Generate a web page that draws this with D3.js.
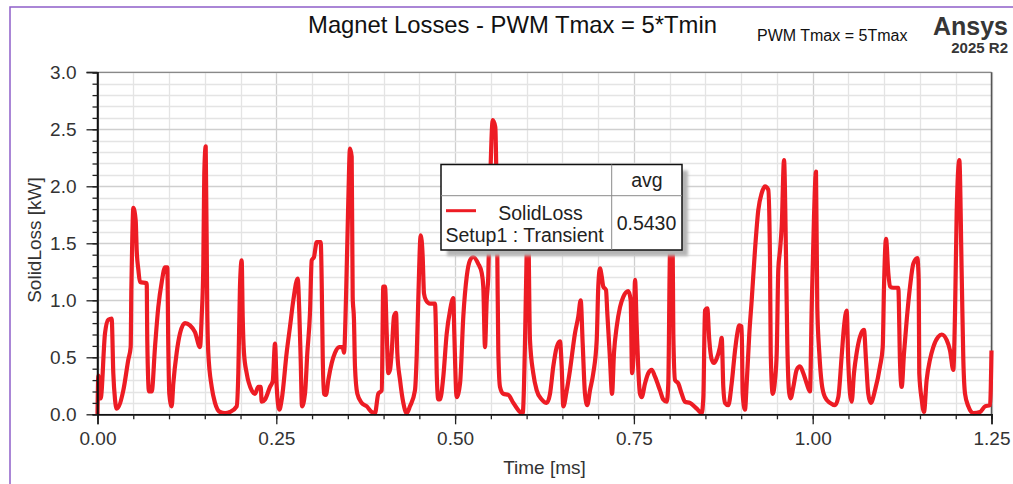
<!DOCTYPE html>
<html><head><meta charset="utf-8">
<script src="https://cdn.jsdelivr.net/npm/d3@7"></script>
<style>html,body{margin:0;padding:0;background:#fff;}svg{display:block;font-family:"Liberation Sans",Arial,sans-serif;}</style>
</head><body>
<svg id="chart" width="1013" height="484"></svg>
<script>
// ---- data ----
const chartTitle = "Magnet Losses - PWM Tmax = 5*Tmin";
const subTitle = "PWM Tmax = 5Tmax";
const xLabel = "Time [ms]";
const yLabel = "SolidLoss [kW]";
const seriesName = "SolidLoss";
const seriesSetup = "Setup1 : Transient";
const avgLabel = "avg";
const avgValue = "0.5430";
const xTickValues = [0, 0.25, 0.5, 0.75, 1.0, 1.25];
const xTickLabels = ["0.00", "0.25", "0.50", "0.75", "1.00", "1.25"];
const yTickValues = [0, 0.5, 1.0, 1.5, 2.0, 2.5, 3.0];
const yTickLabels = ["0.0", "0.5", "1.0", "1.5", "2.0", "2.5", "3.0"];
const timeMs = [
0.0000,0.0012,0.0044,0.0105,0.0151,0.0198,0.0221,0.0245,0.0268,0.0361,0.0431,0.0464,0.0473,0.0487,0.0501,0.0534,0.0548,0.0571,0.0594,0.0688,
0.0696,0.0720,0.0758,0.0804,0.0850,0.0898,0.0944,0.0976,0.0990,0.1004,0.1037,0.1060,0.1107,0.1154,0.1223,0.1293,0.1363,0.1433,0.1457,0.1479,
0.1493,0.1513,0.1535,0.1549,0.1597,0.1643,0.1713,0.1783,0.1853,0.1946,0.1969,0.1992,0.2016,0.2030,0.2048,0.2086,0.2156,0.2202,0.2248,0.2282,
0.2296,0.2342,0.2412,0.2450,0.2482,0.2506,0.2542,0.2576,0.2645,0.2692,0.2738,0.2799,0.2822,0.2841,0.2859,0.2901,0.2934,0.2971,0.2995,0.3027,
0.3065,0.3121,0.3135,0.3149,0.3167,0.3195,0.3227,0.3275,0.3321,0.3381,0.3428,0.3447,0.3475,0.3507,0.3530,0.3554,0.3568,0.3586,0.3600,0.3633,
0.3694,0.3764,0.3834,0.3880,0.3926,0.3974,0.3996,0.4020,0.4044,0.4066,0.4090,0.4113,0.4146,0.4174,0.4192,0.4230,0.4276,0.4323,0.4369,0.4439,
0.4463,0.4485,0.4519,0.4547,0.4565,0.4593,0.4649,0.4719,0.4733,0.4743,0.4765,0.4789,0.4835,0.4883,0.4929,0.4975,0.4989,0.5022,0.5069,0.5115,
0.5163,0.5208,0.5254,0.5324,0.5372,0.5394,0.5418,0.5442,0.5464,0.5498,0.5526,0.5562,0.5590,0.5604,0.5628,0.5674,0.5744,0.5814,0.5908,0.5945,
0.5977,0.6001,0.6019,0.6047,0.6093,0.6141,0.6211,0.6281,0.6327,0.6373,0.6421,0.6467,0.6490,0.6513,0.6561,0.6607,0.6676,0.6723,0.6756,0.6784,
0.6816,0.6848,0.6886,0.6932,0.6980,0.7002,0.7026,0.7050,0.7072,0.7110,0.7128,0.7166,0.7194,0.7222,0.7260,0.7306,0.7352,0.7422,0.7455,0.7474,
0.7492,0.7516,0.7539,0.7562,0.7585,0.7609,0.7655,0.7701,0.7749,0.7795,0.7865,0.7911,0.7959,0.7981,0.8005,0.8040,0.8051,0.8075,0.8121,0.8168,
0.8214,0.8284,0.8378,0.8448,0.8471,0.8494,0.8526,0.8554,0.8588,0.8620,0.8658,0.8704,0.8728,0.8750,0.8774,0.8820,0.8867,0.8914,0.8946,0.8974,
0.9007,0.9021,0.9053,0.9077,0.9114,0.9147,0.9193,0.9239,0.9287,0.9333,0.9379,0.9403,0.9413,0.9441,0.9473,0.9497,0.9519,0.9543,0.9567,0.9599,
0.9627,0.9645,0.9673,0.9692,0.9729,0.9776,0.9822,0.9869,0.9916,0.9962,0.9986,1.0018,1.0046,1.0064,1.0092,1.0126,1.0172,1.0242,1.0312,1.0358,
1.0405,1.0438,1.0475,1.0498,1.0522,1.0545,1.0577,1.0615,1.0661,1.0717,1.0745,1.0777,1.0811,1.0871,1.0941,1.0979,1.0997,1.1025,1.1057,1.1081,
1.1127,1.1197,1.1221,1.1244,1.1277,1.1315,1.1361,1.1407,1.1463,1.1482,1.1490,1.1524,1.1556,1.1593,1.1640,1.1686,1.1756,1.1804,1.1874,1.1920,
1.1966,1.1990,1.2013,1.2050,1.2083,1.2106,1.2130,1.2176,1.2246,1.2340,1.2410,1.2480,1.2500
];
const solidLossKW = [
0.00,0.34,0.14,0.71,0.83,0.84,0.36,0.13,0.05,0.21,0.48,0.59,1.09,1.56,1.81,1.70,1.44,1.27,1.16,1.15,
0.65,0.20,0.20,0.59,0.94,1.16,1.29,1.29,0.59,0.18,0.07,0.27,0.54,0.71,0.80,0.78,0.72,0.59,0.86,1.29,
2.11,2.35,0.89,0.54,0.24,0.10,0.02,0.01,0.02,0.07,0.36,1.12,1.35,0.86,0.54,0.36,0.21,0.18,0.24,0.24,
0.11,0.13,0.24,0.29,0.62,0.24,0.04,0.13,0.54,0.77,1.00,1.19,0.89,0.48,0.07,0.18,0.54,0.89,1.35,1.38,
1.51,1.51,1.15,0.51,0.18,0.17,0.30,0.45,0.54,0.59,0.59,0.54,1.03,1.88,2.33,2.26,1.03,0.83,0.42,0.18,
0.10,0.07,0.02,0.01,0.18,0.21,1.12,1.12,0.71,0.36,0.39,0.54,0.86,0.89,0.54,0.30,0.10,0.01,0.07,0.21,
0.51,1.00,1.57,1.38,1.06,1.00,0.97,0.97,0.71,0.36,0.13,0.13,0.33,0.71,0.91,1.02,0.71,0.15,0.27,0.86,
1.21,1.35,1.38,1.32,1.24,1.12,0.59,1.00,1.21,2.20,2.58,2.52,1.41,0.56,0.24,0.18,0.17,0.10,0.02,0.01,
0.62,1.44,1.75,0.65,0.36,0.21,0.13,0.10,0.18,0.42,0.59,0.64,0.42,0.07,0.21,0.39,0.71,0.86,1.00,0.62,
0.18,0.08,0.21,0.36,0.65,1.12,1.28,1.21,1.12,1.09,0.89,0.48,0.18,0.54,0.77,0.94,1.03,1.08,1.00,0.36,
0.48,1.18,0.77,0.39,0.18,0.15,0.27,0.36,0.39,0.33,0.21,0.13,0.11,0.27,1.44,1.62,0.71,0.30,0.27,0.18,
0.11,0.10,0.05,0.01,0.15,0.91,0.93,0.65,0.48,0.45,0.49,0.59,0.67,0.24,0.10,0.08,0.27,0.56,0.71,0.78,
0.77,0.18,0.04,0.27,0.71,1.00,1.44,1.79,1.94,2.00,1.97,1.35,0.54,0.18,0.30,0.54,1.27,1.44,1.65,2.23,
1.38,0.62,0.18,0.14,0.24,0.39,0.42,0.36,0.27,0.20,0.94,1.73,2.13,0.94,0.54,0.27,0.15,0.10,0.08,0.15,
0.51,0.77,0.91,0.45,0.18,0.11,0.36,0.54,0.68,0.74,0.48,0.18,0.10,0.21,0.42,0.59,1.12,1.54,1.24,1.12,
1.11,1.11,0.45,0.24,0.54,0.83,1.12,1.32,1.37,1.18,0.36,0.13,0.02,0.30,0.48,0.59,0.68,0.70,0.65,0.56,
0.39,0.89,1.76,2.23,1.24,0.48,0.18,0.07,0.01,0.02,0.07,0.08,0.56
];

// ---- layout ----
const svg = d3.select("#chart");
const plot = {left: 97.5, top: 72.3, right: 991.5, bottom: 414.3};
const x = d3.scaleLinear().domain([0, 1.25]).range([plot.left, plot.right]);
const y = d3.scaleLinear().domain([0, 3.0]).range([plot.bottom, plot.top]);

// outer purple frame
svg.append("rect").attr("x", 10).attr("y", 7).attr("width", 1020).attr("height", 500)
  .attr("fill", "#fff").attr("stroke", "#8f5fc9").attr("stroke-width", 1.5);

// grid
const g = svg.append("g");
const xMinor = d3.range(0, 1.2501, 0.05);
const yMinor = d3.range(0, 3.0001, 0.1);
g.selectAll(".vx").data(xMinor).join("line")
  .attr("x1", d => Math.round(x(d)) + 0.5).attr("x2", d => Math.round(x(d)) + 0.5)
  .attr("y1", plot.top).attr("y2", plot.bottom)
  .attr("stroke", d => Math.abs(d / 0.25 - Math.round(d / 0.25)) < 1e-6 ? "#cfcfcf" : "#e4e4e4").attr("stroke-width", 1.3);
g.selectAll(".hy").data(yMinor).join("line")
  .attr("y1", d => Math.round(y(d)) + 0.5).attr("y2", d => Math.round(y(d)) + 0.5)
  .attr("x1", plot.left).attr("x2", plot.right)
  .attr("stroke", d => Math.abs(d / 0.5 - Math.round(d / 0.5)) < 1e-6 ? "#cfcfcf" : "#e4e4e4").attr("stroke-width", 1.3);

// frame top/right
svg.append("line").attr("x1", plot.left).attr("x2", plot.right).attr("y1", plot.top).attr("y2", plot.top).attr("stroke", "#777").attr("stroke-width", 1);
svg.append("line").attr("x1", plot.right).attr("x2", plot.right).attr("y1", plot.top).attr("y2", plot.bottom).attr("stroke", "#555").attr("stroke-width", 1.5);

// data line
const data = timeMs.map((t, i) => [t, solidLossKW[i]]);
const line = d3.line().x(d => x(d[0])).y(d => y(d[1])).curve(d3.curveMonotoneX);
svg.append("path").datum(data).attr("d", line)
  .attr("fill", "none").attr("stroke", "#ed1c24").attr("stroke-width", 4.2)
  .attr("stroke-linejoin", "round");

// axes
const xAxis = d3.axisBottom(x).tickValues(xTickValues).tickFormat((d, i) => xTickLabels[i]).tickSize(10).tickPadding(7);
const xa = svg.append("g").attr("transform", `translate(0,${plot.bottom})`).call(xAxis);
const yAxis = d3.axisLeft(y).tickValues(yTickValues).tickFormat((d, i) => yTickLabels[i]).tickSize(11).tickPadding(10);
const ya = svg.append("g").attr("transform", `translate(${plot.left},0)`).call(yAxis);
const xMinorAxis = d3.axisBottom(x).tickValues(xMinor).tickFormat("").tickSize(5);
svg.append("g").attr("transform", `translate(0,${plot.bottom})`).call(xMinorAxis);
const yMinorAxis = d3.axisLeft(y).tickValues(yMinor).tickFormat("").tickSize(5);
svg.append("g").attr("transform", `translate(${plot.left},0)`).call(yMinorAxis);
svg.selectAll(".domain").attr("stroke", "#111").attr("stroke-width", 1.5);
svg.selectAll(".tick line").attr("stroke", "#222").attr("stroke-width", 1.3);
xa.selectAll("text").attr("font-size", 19).attr("fill", "#333").attr("font-family", "Liberation Sans, Arial, sans-serif");
ya.selectAll("text").attr("font-size", 19).attr("fill", "#333").attr("font-family", "Liberation Sans, Arial, sans-serif");
ya.select(".domain").attr("d", `M0,${plot.bottom}V${plot.top}`);
svg.append("line").attr("x1", plot.left - 11).attr("x2", plot.left).attr("y1", plot.top).attr("y2", plot.top).attr("stroke", "#222").attr("stroke-width", 1.3);

// axis titles
svg.append("text").attr("x", (plot.left + plot.right) / 2).attr("y", 474).attr("text-anchor", "middle")
  .attr("font-size", 19).attr("fill", "#333").text(xLabel);
svg.append("text").attr("transform", "translate(41,240) rotate(-90)").attr("text-anchor", "middle")
  .attr("font-size", 19).attr("fill", "#333").text(yLabel);

// title & branding
svg.append("text").attr("x", 512.5).attr("y", 33).attr("text-anchor", "middle")
  .attr("font-size", 23.8).attr("fill", "#111").text(chartTitle);
svg.append("text").attr("x", 757).attr("y", 41).attr("font-size", 16).attr("fill", "#111").text(subTitle);
svg.append("text").attr("x", 1008).attr("y", 35).attr("text-anchor", "end").attr("font-size", 25)
  .attr("font-weight", "bold").attr("fill", "#363636").text("Ansys");
svg.append("text").attr("x", 1008).attr("y", 53).attr("text-anchor", "end").attr("font-size", 15)
  .attr("font-weight", "bold").attr("fill", "#363636").text("2025 R2");

// legend
const L = {x: 441, y: 164.5, w: 241, h: 85.5, col: 611.7, row: 195.7};
const defs = svg.append("defs");
const f = defs.append("filter").attr("id", "blur").attr("x", "-10%").attr("y", "-10%").attr("width", "130%").attr("height", "130%");
f.append("feGaussianBlur").attr("stdDeviation", 1.5);
svg.append("rect").attr("x", L.x + 6).attr("y", L.y + 6).attr("width", L.w).attr("height", L.h)
  .attr("fill", "#b5b5b5").attr("filter", "url(#blur)");
svg.append("rect").attr("x", L.x).attr("y", L.y).attr("width", L.w).attr("height", L.h)
  .attr("fill", "#fff").attr("stroke", "#111").attr("stroke-width", 1.5);
svg.append("line").attr("x1", L.x).attr("x2", L.x + L.w).attr("y1", L.row).attr("y2", L.row).attr("stroke", "#8a8a8a");
svg.append("line").attr("x1", L.col).attr("x2", L.col).attr("y1", L.y).attr("y2", L.y + L.h).attr("stroke", "#8a8a8a");
svg.append("line").attr("x1", 446).attr("x2", 476).attr("y1", 210.7).attr("y2", 210.7).attr("stroke", "#ed1c24").attr("stroke-width", 3);
svg.append("text").attr("x", 540.5).attr("y", 220).attr("text-anchor", "middle").attr("font-size", 19.5).attr("fill", "#222").text(seriesName);
svg.append("text").attr("x", 445.5).attr("y", 242).attr("font-size", 19.5).attr("fill", "#222").text(seriesSetup);
svg.append("text").attr("x", 647).attr("y", 187).attr("text-anchor", "middle").attr("font-size", 19.5).attr("fill", "#222").text(avgLabel);
svg.append("text").attr("x", 646.5).attr("y", 230).attr("text-anchor", "middle").attr("font-size", 19.5).attr("fill", "#222").text(avgValue);
</script>
</body></html>
